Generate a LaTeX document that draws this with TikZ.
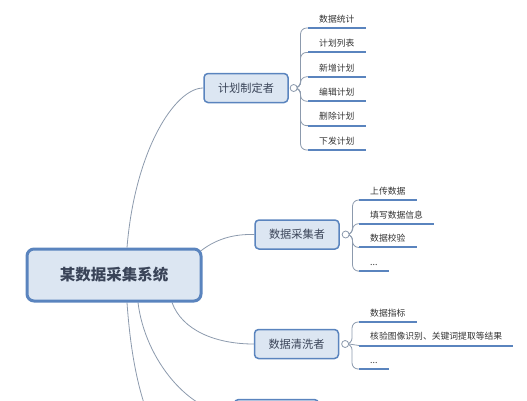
\documentclass[tikz,border=0pt]{standalone}
\usepackage{fontspec}
\setmainfont{Noto Sans CJK SC}
\usetikzlibrary{positioning}
\pgfdeclarelayer{back}
\pgfsetlayers{back,main}
\definecolor{boxfill}{HTML}{DCE6F2}
\definecolor{boxline}{HTML}{5A84BE}
\definecolor{wire}{HTML}{8C9AAD}
\definecolor{ink}{HTML}{3A4458}
\newcommand{\ellips}{...}
\tikzset{
  rootbox/.style={draw=boxline, fill=boxfill, line width=3pt, rounded corners=7pt,
    minimum width=174pt, minimum height=52pt, text=ink,
    font=\fontsize{15.5pt}{18pt}\selectfont\bfseries},
  rolebox/.style={draw=boxline, fill=boxfill, line width=1.5pt, rounded corners=4pt,
    minimum width=84pt, minimum height=29pt, text=ink,
    font=\fontsize{11.2pt}{13pt}\selectfont},
  knob/.style={circle, draw=wire, fill=white, line width=0.8pt, minimum size=7pt, inner sep=0pt},
  leaf/.style={anchor=south west, inner xsep=11pt, inner ysep=4pt, text height=7pt,
    text depth=1.5pt, text=black!80, font=\fontsize{8.8pt}{10pt}\selectfont},
  uline/.style={draw=boxline, line width=2pt},
  wirepath/.style={draw=wire, line width=0.8pt},
  twig/.style={wirepath, rounded corners=6pt}
}
\begin{document}
\begin{tikzpicture}[x=1pt,y=-1pt]
  \clip (0,0) rectangle (527,400);

  \node[rootbox] (root) at (114,275) {某数据采集系统};

  \node[rolebox] (plan) at (246,88) {计划制定者};
  \node[rolebox] (collect) at (297,234.5) {数据采集者};
  \node[rolebox] (clean) at (296.5,344) {数据清洗者};
  \node[rolebox] (bot) at (276.5,414) {};
  \coordinate (below) at (150,420);

  \node[knob, right=1pt of plan] (k1) {};
  \node[knob, right=2pt of collect] (k2) {};
  \node[knob, right=2pt of clean] (k3) {};

  \begin{pgfonlayer}{back}
    \draw[wirepath] ([xshift=13pt]root.north) .. controls (135,150) and (175,88) .. (plan.west);
    \draw[wirepath] ([xshift=-6pt,yshift=-7pt]root.north east) .. controls (215,238) and (235,234) .. (collect.west);
    \draw[wirepath] ([xshift=58pt]root.south) .. controls (182,330) and (215,344) .. (clean.west);
    \draw[wirepath] ([xshift=24pt]root.south) .. controls (145,360) and (190,414) .. (bot.west);
    \draw[wirepath] ([xshift=13pt]root.south) .. controls (131,360) and (140,395) .. (below);
  \end{pgfonlayer}

  % leaves of the planner
  \foreach \t [count=\i] in {数据统计,计划列表,新增计划,编辑计划,删除计划,下发计划} {
    \node[leaf] (p\i) at (308,{28+24.4*(\i-1)}) {\t};
    \draw[uline] (p\i.south west) -- (p\i.south east);
    \begin{pgfonlayer}{back}
      \draw[twig] (k1.east) -- ++(3,0) |- (p\i.south west);
    \end{pgfonlayer}
  }

  % leaves of the collector
  \foreach \t [count=\i] in {上传数据,填写数据信息,数据校验,\ellips} {
    \node[leaf] (a\i) at (359,{200+23.7*(\i-1)}) {\t};
    \draw[uline] (a\i.south west) -- (a\i.south east);
    \begin{pgfonlayer}{back}
      \draw[twig] (k2.east) -- ++(3,0) |- (a\i.south west);
    \end{pgfonlayer}
  }

  % leaves of the cleaner
  \foreach \t [count=\i] in {数据指标,核验图像识别、关键词提取等结果,\ellips}
    \node[leaf] (q\i) at (359,{322+23.5*(\i-1)}) {\t};
  \foreach \i in {1,2,3}
    \draw[uline] (q\i.south west) -- (q\i.south east);
  \begin{pgfonlayer}{back}
    \draw[twig] (k3.east) -- ++(3,0) |- (q1.south west);
    \draw[wirepath] (k3.east) -- (q2.south west);
    \draw[twig] (k3.east) -- ++(3,0) |- (q3.south west);
  \end{pgfonlayer}
\end{tikzpicture}
\end{document}
